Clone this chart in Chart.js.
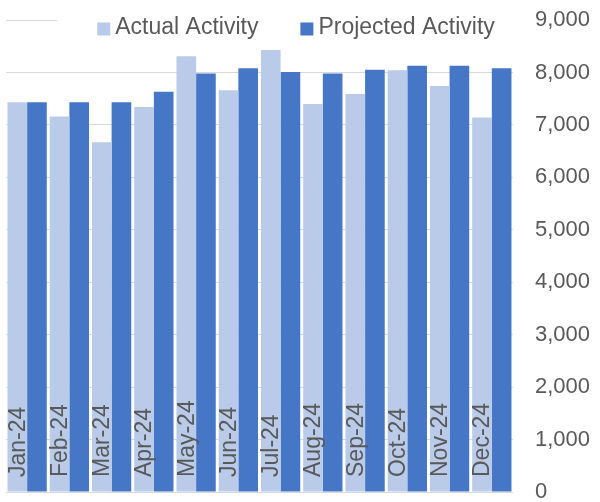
<!DOCTYPE html>
<html>
<head>
<meta charset="utf-8">
<script src="https://cdn.jsdelivr.net/npm/chart.js@4/dist/chart.umd.min.js"></script>
<style>
  html, body { margin: 0; padding: 0; background: #ffffff; }
  canvas { display: block; }
</style>
</head>
<body>
<canvas id="activityChart" width="600" height="502"></canvas>
<script>
// Monthly activity, actual vs projected
const months = ['Jan-24', 'Feb-24', 'Mar-24', 'Apr-24', 'May-24', 'Jun-24',
                'Jul-24', 'Aug-24', 'Sep-24', 'Oct-24', 'Nov-24', 'Dec-24'];
const actualActivity = [7430, 7160, 6670, 7340, 8310, 7660, 8430, 7400, 7590, 8040, 7740, 7140];
const projectedActivity = [7430, 7430, 7430, 7630, 7980, 8080, 8010, 7980, 8050, 8130, 8130, 8080];
const yMin = 0;
const yMax = 9000;
const yStep = 1000;

const FONT = "'Liberation Sans', Arial, sans-serif";
const TEXT_COLOR = '#595959';

// legend sits over the top of the plot with a white backing, like the Excel one
const legendPlugin = {
    id: 'topLegend',
    afterDraw(chart) {
        const ctx = chart.ctx;
        const area = chart.chartArea;
        const box = 13, gap = 5, itemGap = 42;
        ctx.save();
        ctx.font = '23px ' + FONT;
        const items = chart.data.datasets.map(ds => ({
            label: ds.label,
            color: ds.backgroundColor,
            w: box + gap + ctx.measureText(ds.label).width
        }));
        const total = items.reduce((s, it) => s + it.w, 0) + itemGap * (items.length - 1);
        let x = (chart.width - total) / 2 - 4;
        const cy = 28;

        ctx.fillStyle = '#ffffff';
        ctx.fillRect(x - 40, 4, area.right - (x - 40), 40);

        ctx.textBaseline = 'middle';
        ctx.textAlign = 'left';
        items.forEach(it => {
            ctx.fillStyle = it.color;
            ctx.fillRect(x, cy - box / 2 + 1, box, box);
            ctx.fillStyle = TEXT_COLOR;
            ctx.fillText(it.label, x + box + gap, cy);
            x += it.w + itemGap;
        });
        ctx.restore();
    }
};

// month names run up the inside of the light bars
const monthLabelPlugin = {
    id: 'monthLabels',
    afterDatasetsDraw(chart) {
        const ctx = chart.ctx;
        const meta = chart.getDatasetMeta(0);
        const bottom = chart.chartArea.bottom;
        ctx.save();
        ctx.font = '23px ' + FONT;
        ctx.fillStyle = TEXT_COLOR;
        ctx.textAlign = 'left';
        ctx.textBaseline = 'middle';
        meta.data.forEach((bar, i) => {
            ctx.save();
            ctx.translate(bar.x + 1, bottom - 15);
            ctx.rotate(-Math.PI / 2);
            ctx.fillText(chart.data.labels[i], 0, 0);
            ctx.restore();
        });
        ctx.restore();
    }
};

const ctx = document.getElementById('activityChart').getContext('2d');
new Chart(ctx, {
    type: 'bar',
    data: {
        labels: months,
        datasets: [{
            label: 'Actual Activity',
            data: actualActivity,
            backgroundColor: '#b9cbe8',
            borderWidth: 0
        }, {
            label: 'Projected Activity',
            data: projectedActivity,
            backgroundColor: '#4677c6',
            borderWidth: 0
        }]
    },
    options: {
        responsive: false,
        animation: false,
        devicePixelRatio: 1,
        datasets: {
            bar: { categoryPercentage: 0.93, barPercentage: 1.0 }
        },
        layout: {
            padding: { left: 6, right: -12, top: 20, bottom: 10 }
        },
        plugins: {
            legend: { display: false },
            tooltip: { enabled: false }
        },
        scales: {
            x: {
                display: false,
                offset: true
            },
            y: {
                position: 'right',
                min: yMin,
                max: yMax,
                border: { display: false },
                grid: { color: '#d9d9d9', lineWidth: 1, drawTicks: false },
                ticks: {
                    stepSize: yStep,
                    padding: 22,
                    color: TEXT_COLOR,
                    font: { family: FONT, size: 22, lineHeight: 1.0 },
                    callback: v => v.toLocaleString('en-US')
                },
                // tick padding should only push labels sideways, not shrink the plot vertically
                afterFit(scale) {
                    scale.paddingTop = 0;
                    scale.paddingBottom = 0;
                }
            }
        }
    },
    plugins: [monthLabelPlugin, legendPlugin]
});
</script>
</body>
</html>
